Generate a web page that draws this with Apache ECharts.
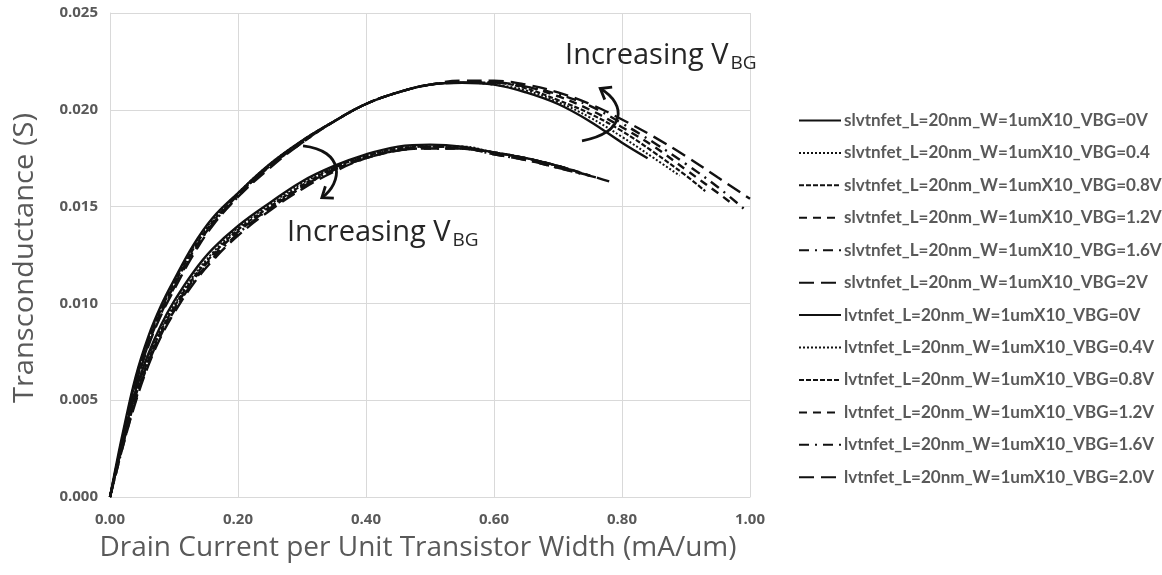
<!DOCTYPE html>
<html>
<head>
<meta charset="utf-8">
<script src="https://cdn.jsdelivr.net/npm/echarts/dist/echarts.min.js"></script>
<style>
  html, body { margin: 0; padding: 0; background: #ffffff; }
  #chart { width: 1162px; height: 575px; }
</style>
</head>
<body>
<div id="chart"></div>
<script>
// Drain current per unit width (mA/um), shared sample points up to 0.70
const idBase = [0, 0.01, 0.02, 0.04, 0.06, 0.08, 0.10, 0.13, 0.16, 0.20,
                0.25, 0.30, 0.35, 0.40, 0.45, 0.50, 0.55, 0.60, 0.65, 0.70];

// SLVT devices: current axis and transconductance (S) per back-gate bias
const idSlvt00 = [...idBase, 0.75, 0.80, 0.84];
const gmSlvt00 = [0, 0.0017, 0.0033, 0.0062, 0.0083, 0.0099, 0.0112, 0.0130, 0.0144, 0.0157,
                  0.0172, 0.0184, 0.0194, 0.0203, 0.0209, 0.0213, 0.0214, 0.0213, 0.0209, 0.0203,
                  0.0194, 0.0183, 0.0175];
const idSlvt04 = [...idBase, 0.75, 0.80, 0.85, 0.89];
const gmSlvt04 = [0, 0.0016, 0.0032, 0.0061, 0.0082, 0.0098, 0.0111, 0.0129, 0.0143, 0.0157,
                  0.0172, 0.0184, 0.0194, 0.0203, 0.0209, 0.0213, 0.0214, 0.0213, 0.0210, 0.0204,
                  0.0196, 0.0186, 0.0175, 0.0166];
const idSlvt08 = [...idBase, 0.75, 0.80, 0.85, 0.90, 0.93];
const gmSlvt08 = [0, 0.0016, 0.0031, 0.0060, 0.0081, 0.0097, 0.0110, 0.0128, 0.0142, 0.0156,
                  0.0171, 0.0184, 0.0194, 0.0203, 0.0209, 0.0213, 0.0214, 0.0214, 0.0211, 0.0205,
                  0.0198, 0.0189, 0.0178, 0.0166, 0.0158];
const idSlvt12 = [...idBase, 0.75, 0.80, 0.85, 0.90, 0.95, 0.97];
const gmSlvt12 = [0, 0.0015, 0.0030, 0.0059, 0.0080, 0.0096, 0.0109, 0.0127, 0.0141, 0.0156,
                  0.0171, 0.0183, 0.0194, 0.0203, 0.0209, 0.0213, 0.0214, 0.0214, 0.0212, 0.0207,
                  0.0200, 0.0191, 0.0181, 0.0169, 0.0157, 0.0152];
const idSlvt16 = [...idBase, 0.75, 0.80, 0.85, 0.90, 0.95, 0.99];
const gmSlvt16 = [0, 0.0015, 0.0030, 0.0058, 0.0079, 0.0095, 0.0108, 0.0126, 0.0141, 0.0155,
                  0.0171, 0.0183, 0.0194, 0.0203, 0.0209, 0.0213, 0.0214, 0.0214, 0.0212, 0.0208,
                  0.0202, 0.0193, 0.0183, 0.0172, 0.0160, 0.0149];
const idSlvt20 = [...idBase, 0.75, 0.80, 0.85, 0.90, 0.95, 1.00];
const gmSlvt20 = [0, 0.0015, 0.0029, 0.0057, 0.0078, 0.0094, 0.0107, 0.0125, 0.0140, 0.0155,
                  0.0170, 0.0183, 0.0194, 0.0203, 0.0209, 0.0213, 0.0215, 0.0215, 0.0213, 0.0209,
                  0.0203, 0.0195, 0.0186, 0.0176, 0.0165, 0.0154];

// LVT devices
const idLvt00 = [...idBase, 0.72];
const gmLvt00 = [0, 0.0015, 0.0029, 0.0055, 0.0074, 0.0089, 0.0101, 0.0116, 0.0128, 0.0140,
                 0.0152, 0.0163, 0.0171, 0.0177, 0.0181, 0.0182, 0.0181, 0.0178, 0.0175, 0.0171,
                 0.0169];
const idLvt04 = [...idBase, 0.73];
const gmLvt04 = [0, 0.0014, 0.0028, 0.0053, 0.0072, 0.0087, 0.0099, 0.0114, 0.0126, 0.0139,
                 0.0151, 0.0162, 0.0170, 0.0176, 0.0180, 0.0181, 0.0181, 0.0178, 0.0175, 0.0171,
                 0.0168];
const idLvt08 = [...idBase, 0.74];
const gmLvt08 = [0, 0.0014, 0.0027, 0.0052, 0.0071, 0.0086, 0.0098, 0.0113, 0.0125, 0.0138,
                 0.0150, 0.0161, 0.0170, 0.0176, 0.0180, 0.0181, 0.0180, 0.0178, 0.0175, 0.0171,
                 0.0167];
const idLvt12 = [...idBase, 0.75];
const gmLvt12 = [0, 0.0014, 0.0027, 0.0051, 0.0070, 0.0085, 0.0097, 0.0112, 0.0124, 0.0137,
                 0.0149, 0.0160, 0.0169, 0.0175, 0.0179, 0.0181, 0.0180, 0.0178, 0.0175, 0.0171,
                 0.0166];
const idLvt16 = [...idBase, 0.76];
const gmLvt16 = [0, 0.0013, 0.0026, 0.0050, 0.0069, 0.0084, 0.0096, 0.0111, 0.0123, 0.0136,
                 0.0149, 0.0160, 0.0169, 0.0175, 0.0179, 0.0180, 0.0180, 0.0177, 0.0174, 0.0170,
                 0.0165];
const idLvt20 = [...idBase, 0.75, 0.78];
const gmLvt20 = [0, 0.0013, 0.0026, 0.0049, 0.0068, 0.0083, 0.0095, 0.0110, 0.0122, 0.0135,
                 0.0148, 0.0159, 0.0168, 0.0175, 0.0179, 0.0180, 0.0180, 0.0177, 0.0174, 0.0170,
                 0.0166, 0.0163];

const seriesNames = [
  'slvtnfet_L=20nm_W=1umX10_VBG=0V',
  'slvtnfet_L=20nm_W=1umX10_VBG=0.4',
  'slvtnfet_L=20nm_W=1umX10_VBG=0.8V',
  'slvtnfet_L=20nm_W=1umX10_VBG=1.2V',
  'slvtnfet_L=20nm_W=1umX10_VBG=1.6V',
  'slvtnfet_L=20nm_W=1umX10_VBG=2V',
  'lvtnfet_L=20nm_W=1umX10_VBG=0V',
  'lvtnfet_L=20nm_W=1umX10_VBG=0.4V',
  'lvtnfet_L=20nm_W=1umX10_VBG=0.8V',
  'lvtnfet_L=20nm_W=1umX10_VBG=1.2V',
  'lvtnfet_L=20nm_W=1umX10_VBG=1.6V',
  'lvtnfet_L=20nm_W=1umX10_VBG=2.0V'
];
const seriesX = [idSlvt00, idSlvt04, idSlvt08, idSlvt12, idSlvt16, idSlvt20,
                 idLvt00, idLvt04, idLvt08, idLvt12, idLvt16, idLvt20];
const seriesY = [gmSlvt00, gmSlvt04, gmSlvt08, gmSlvt12, gmSlvt16, gmSlvt20,
                 gmLvt00, gmLvt04, gmLvt08, gmLvt12, gmLvt16, gmLvt20];

// Axis ticks
const xTicks = { min: 0, max: 1, interval: 0.2 };
const yTicks = { min: 0, max: 0.025, interval: 0.005 };

// Line patterns cycle through the six back-gate biases
const dashPatterns = [
  { type: 'solid', width: 2.4 },
  { type: [2, 2], width: 2 },
  { type: [5, 2], width: 2.2 },
  { type: [8, 6], width: 2.4 },
  { type: [10, 6, 2, 6], width: 2.4 },
  { type: [15, 7], width: 2.4 }
];

const grayText = '#595959';
const labelFont = '"Open Sans", "DejaVu Sans", sans-serif';
const legendFont = 'Lato, "Open Sans", sans-serif';
const titleFont = '"Open Sans", "Noto Sans", sans-serif';

// Legend type size chosen so the longest entry spans about 318 px
function fitFontSize(text, family, weight, targetWidth) {
  const ctx = document.createElement('canvas').getContext('2d');
  ctx.font = weight + ' 100px ' + family;
  return 100 * targetWidth / ctx.measureText(text).width;
}
const legendFontSize = Math.min(19, fitFontSize(seriesNames[3], legendFont, 'bold', 318));

const series = seriesNames.map((name, k) => ({
  name: name,
  type: 'line',
  data: seriesX[k].map((x, i) => [x, seriesY[k][i]]),
  smooth: 0.4,
  symbol: 'none',
  showSymbol: false,
  lineStyle: {
    color: '#111111',
    width: dashPatterns[k % 6].width,
    type: dashPatterns[k % 6].type,
    cap: 'butt'
  },
  itemStyle: { color: '#111111' },
  emphasis: { disabled: true },
  silent: true,
  z: 3
}));

const chart = echarts.init(document.getElementById('chart'), null, { renderer: 'canvas' });

const option = {
  animation: false,
  backgroundColor: '#ffffff',
  grid: { left: 110, right: 412, top: 13, bottom: 78, containLabel: false },
  xAxis: {
    type: 'value',
    min: xTicks.min, max: xTicks.max, interval: xTicks.interval,
    name: 'Drain Current per Unit Transistor Width (mA/um)',
    nameLocation: 'middle',
    nameGap: 37,
    nameTextStyle: { fontFamily: titleFont, fontSize: 28, color: grayText, padding: [0, 24, 0, 0] },
    axisLine: { show: true, lineStyle: { color: '#d9d9d9', width: 1 } },
    axisTick: { show: false },
    axisLabel: {
      formatter: v => v.toFixed(2),
      fontFamily: labelFont, fontWeight: 'bold', fontSize: 15, color: grayText, margin: 15
    },
    splitLine: { show: true, lineStyle: { color: '#d9d9d9', width: 1 } }
  },
  yAxis: {
    type: 'value',
    min: yTicks.min, max: yTicks.max, interval: yTicks.interval,
    axisLine: { show: true, lineStyle: { color: '#d9d9d9', width: 1 } },
    axisTick: { show: false },
    axisLabel: {
      formatter: v => v.toFixed(3),
      fontFamily: labelFont, fontWeight: 'bold', fontSize: 15, color: grayText, margin: 12
    },
    splitLine: { show: true, lineStyle: { color: '#d9d9d9', width: 1 } }
  },
  legend: {
    orient: 'vertical',
    left: 793,
    top: 107,
    itemWidth: 42,
    itemHeight: 14,
    itemGap: 32.5 - Math.max(14, legendFontSize),
    selectedMode: false,
    data: seriesNames,
    itemStyle: { opacity: 0, borderWidth: 0 },
    textStyle: { fontFamily: legendFont, fontWeight: 'bold', fontSize: legendFontSize, color: grayText, padding: [0, 0, 0, -2] }
  },
  series: series
};

chart.setOption(option);

// Annotation arrows and labels, anchored in data units
const arrowUpper = [[0.7375, 0.0184], [0.805, 0.0188], [0.809, 0.02026], [0.766, 0.0211]];
const arrowLower = [[0.3016, 0.01814], [0.367, 0.0179], [0.364, 0.01624], [0.331, 0.01546]];
const labelUpperAt = [0.711, 0.02278];
const labelLowerAt = [0.2766, 0.01366];

function toPx(p) { return chart.convertToPixel({ gridIndex: 0 }, p); }

function arrowGraphics(pts) {
  const [s, c1, c2, e] = pts.map(toPx);
  const dx = e[0] - c2[0], dy = e[1] - c2[1];
  const len = Math.hypot(dx, dy);
  const ux = dx / len, uy = dy / len;
  const headLen = 12, spread = 0.65;
  const rot = (a) => [
    e[0] - headLen * (ux * Math.cos(a) - uy * Math.sin(a)),
    e[1] - headLen * (ux * Math.sin(a) + uy * Math.cos(a))
  ];
  return [
    {
      type: 'bezierCurve',
      shape: { x1: s[0], y1: s[1], cpx1: c1[0], cpy1: c1[1], cpx2: c2[0], cpy2: c2[1], x2: e[0], y2: e[1] },
      style: { stroke: '#111111', lineWidth: 2.8, fill: null },
      z: 10, silent: true
    },
    {
      type: 'polyline',
      shape: { points: [rot(spread), e, rot(-spread)] },
      style: { stroke: '#111111', lineWidth: 2.8, fill: null, lineJoin: 'miter' },
      z: 10, silent: true
    }
  ];
}

function labelGraphic(at) {
  const p = toPx(at);
  return {
    type: 'text',
    x: p[0], y: p[1],
    z: 10, silent: true,
    style: {
      text: '{a|Increasing V}{b|BG}',
      verticalAlign: 'middle',
      align: 'left',
      rich: {
        a: { fontFamily: titleFont, fontSize: 29, fill: '#262626', lineHeight: 35 },
        b: { fontFamily: titleFont, fontSize: 19, fill: '#262626', lineHeight: 25, verticalAlign: 'bottom', padding: [0, 0, 0, 2] }
      }
    }
  };
}

// Vertical axis title, slightly stretched along its length
const yTitle = {
  type: 'text',
  x: 25,
  y: 258,
  rotation: Math.PI / 2,
  scaleX: 1.04,
  z: 5, silent: true,
  style: {
    text: 'Transconductance (S)',
    fontFamily: titleFont, fontSize: 28, fill: grayText,
    align: 'center', verticalAlign: 'middle'
  }
};

chart.setOption({
  graphic: [
    ...arrowGraphics(arrowUpper),
    ...arrowGraphics(arrowLower),
    labelGraphic(labelUpperAt),
    labelGraphic(labelLowerAt),
    yTitle
  ]
});
</script>
</body>
</html>
